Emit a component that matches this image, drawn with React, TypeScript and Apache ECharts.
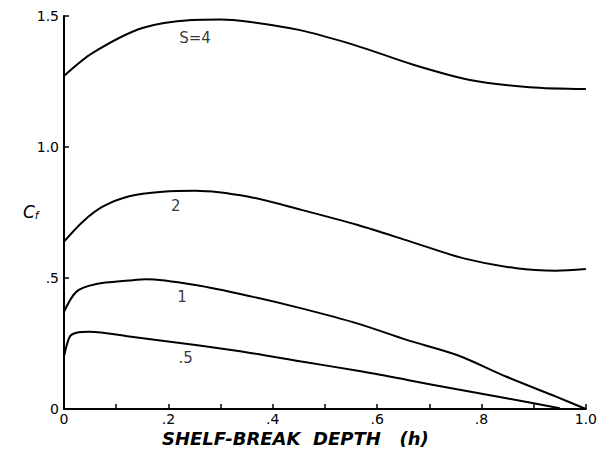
import React, { useEffect, useRef } from "react";
import * as echarts from "echarts";

// Shelf-break depth h vs C_f, four values of S
const curveS4: [number, number][] = [
  [0, 1.271], [0.055, 1.359], [0.15, 1.454], [0.245, 1.485], [0.3, 1.487], [0.354, 1.478],
  [0.45, 1.447], [0.557, 1.389], [0.671, 1.313], [0.778, 1.256], [0.892, 1.228], [1.0, 1.221],
];
const curveS2: [number, number][] = [
  [0, 0.639], [0.036, 0.715], [0.074, 0.772], [0.125, 0.812], [0.189, 0.829], [0.252, 0.833],
  [0.354, 0.81], [0.455, 0.76], [0.563, 0.702], [0.664, 0.639], [0.766, 0.575], [0.867, 0.537],
  [0.943, 0.528], [1.0, 0.534],
];
const curveS1: [number, number][] = [
  [0, 0.371], [0.024, 0.448], [0.062, 0.477], [0.125, 0.49], [0.157, 0.495], [0.252, 0.473],
  [0.36, 0.429], [0.455, 0.384], [0.563, 0.326], [0.658, 0.263], [0.753, 0.206], [0.848, 0.123],
  [0.943, 0.047], [1.0, 0],
];
const curveS05: [number, number][] = [
  [0, 0.2], [0.011, 0.276], [0.024, 0.291], [0.049, 0.295], [0.125, 0.277], [0.252, 0.244],
  [0.36, 0.213], [0.455, 0.181], [0.563, 0.146], [0.658, 0.111], [0.753, 0.075], [0.848, 0.041],
  [0.95, 0.003],
];

const curveLabels: [number, number, string][] = [
  [0.251, 1.416, "S=4"],
  [0.214, 0.775, "2"],
  [0.226, 0.427, "1"],
  [0.233, 0.195, ".5"],
];

const xTickLabels: Record<number, string> = { 0: "0", 2: ".2", 4: ".4", 6: ".6", 8: ".8", 10: "1.0" };
const yTickLabels: Record<number, string> = { 0: "0", 5: ".5", 10: "1.0", 15: "1.5" };

const xTitle = "SHELF-BREAK  DEPTH   (h)";

const FONT = "DejaVu Sans";

export default function App() {
  const ref = useRef<HTMLDivElement>(null);
  useEffect(() => {
    if (!ref.current) return;
    const chart = echarts.init(ref.current, undefined, { renderer: "svg" });
    const lineSeries = (data: [number, number][]) => ({
      type: "line",
      data,
      smooth: 0.3,
      showSymbol: false,
      symbol: "none",
      lineStyle: { color: "#000", width: 2 },
      silent: true,
    });
    chart.setOption({
      animation: false,
      backgroundColor: "#fff",
      grid: { left: 64, right: 10, top: 16, bottom: 44 },
      xAxis: {
        type: "value",
        min: 0,
        max: 1,
        interval: 0.1,
        axisLine: { show: true, lineStyle: { color: "#000", width: 2 } },
        axisTick: { show: true, inside: true, length: 5, lineStyle: { color: "#000", width: 1.5 } },
        splitLine: { show: false },
        axisLabel: {
          color: "#000",
          fontFamily: FONT,
          fontSize: 14,
          margin: 3,
          formatter: (v: number) => xTickLabels[Math.round(v * 10)] ?? "",
        },
      },
      yAxis: {
        type: "value",
        min: 0,
        max: 1.5,
        interval: 0.5,
        axisLine: { show: true, lineStyle: { color: "#000", width: 2 } },
        axisTick: { show: true, inside: true, length: 5, lineStyle: { color: "#000", width: 1.5 } },
        splitLine: { show: false },
        axisLabel: {
          color: "#000",
          fontFamily: FONT,
          fontSize: 14,
          margin: 5,
          formatter: (v: number) => yTickLabels[Math.round(v * 10)] ?? "",
        },
      },
      graphic: [
        {
          type: "text",
          left: 23,
          top: 203,
          style: {
            text: "{c|C}{f|f}",
            rich: {
              c: { fontFamily: FONT, fontStyle: "italic", fontSize: 17, fill: "#000" },
              f: { fontFamily: FONT, fontStyle: "italic", fontSize: 11, fill: "#000", verticalAlign: "bottom", padding: [8, 0, 0, 0] },
            },
          },
        },
        {
          type: "text",
          left: 162,
          top: 429,
          style: {
            text: xTitle,
            fill: "#000",
            font: `italic bold 18px "${FONT}"`,
          },
        },
      ],
      series: [
        lineSeries(curveS4),
        lineSeries(curveS2),
        lineSeries(curveS1),
        lineSeries(curveS05),
        {
          type: "scatter",
          symbolSize: 0,
          silent: true,
          data: curveLabels.map((d) => ({ value: [d[0], d[1]], name: d[2] })),
          label: {
            show: true,
            position: "inside",
            formatter: (p: any) => p.name,
            color: "#000",
            fontFamily: FONT,
            fontSize: 15,
          },
        },
      ],
    });
    return () => chart.dispose();
  }, []);
  return <div ref={ref} style={{ width: 600, height: 453, position: "absolute", left: 0, top: 0 }} />;
}
